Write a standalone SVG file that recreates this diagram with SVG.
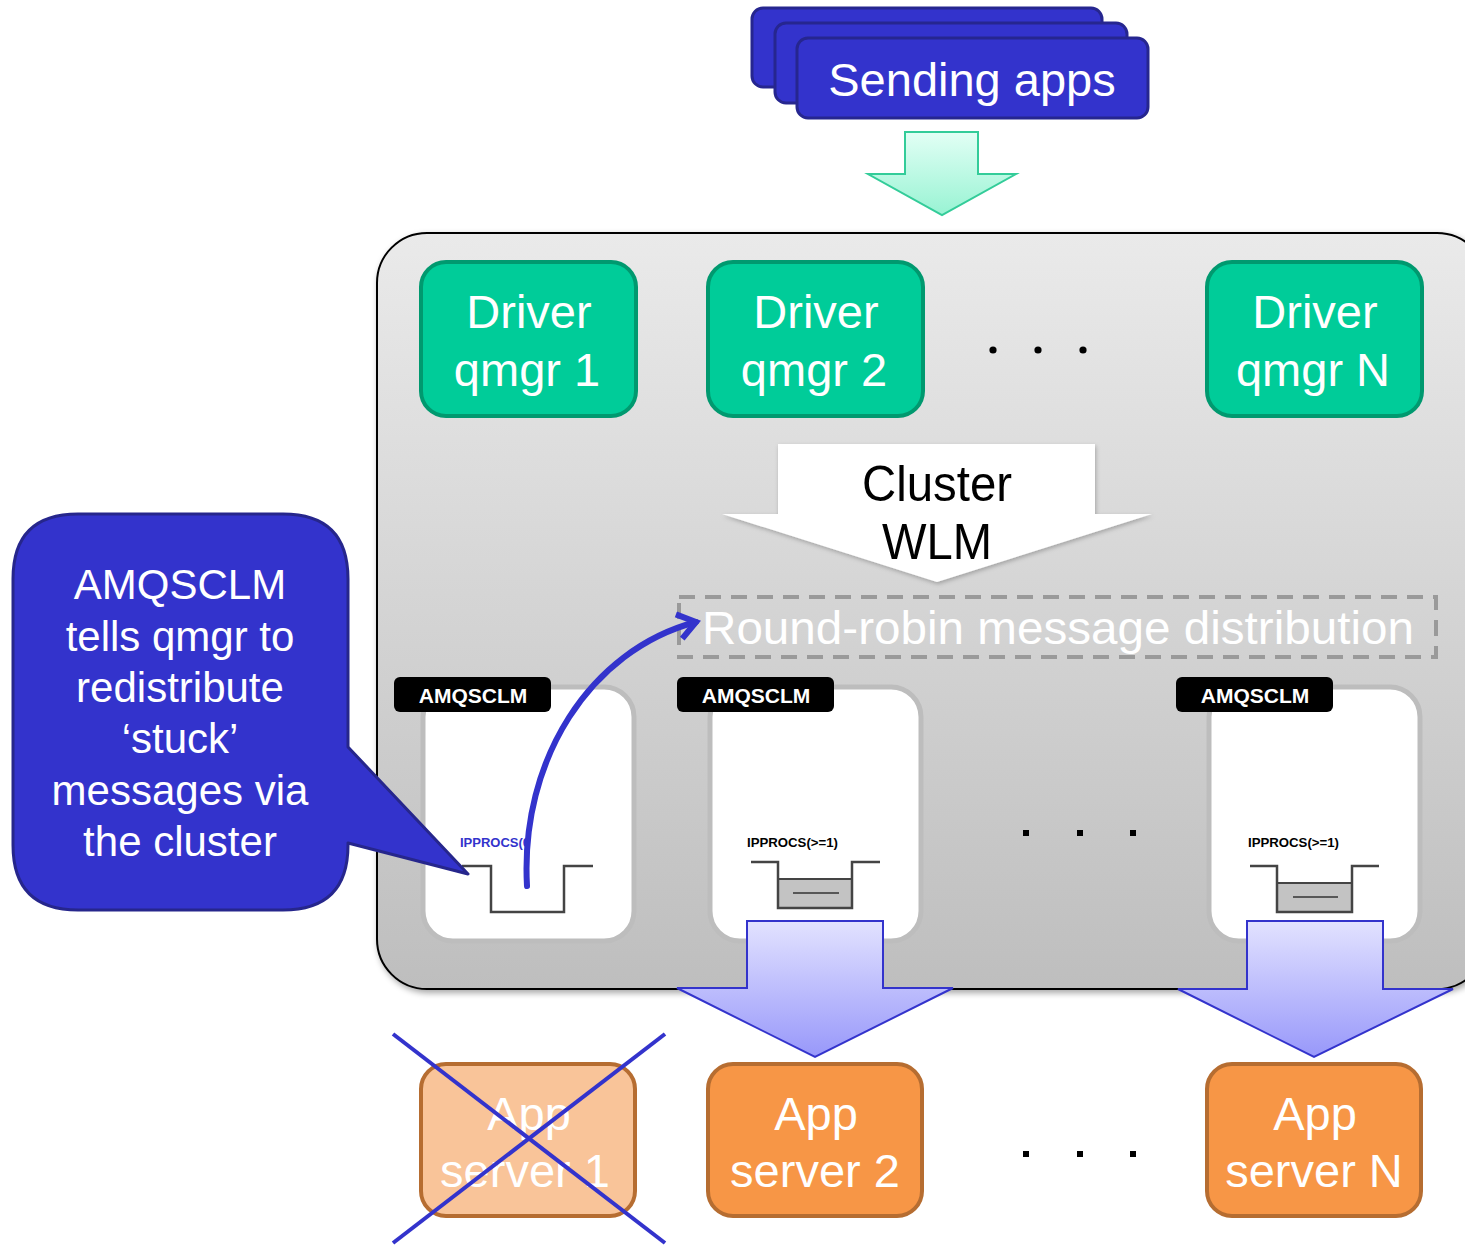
<svg xmlns="http://www.w3.org/2000/svg" width="1465" height="1246" viewBox="0 0 1465 1246">
<defs>
<linearGradient id="gCont" x1="0" y1="0" x2="0" y2="1"><stop offset="0" stop-color="#EAEAEA"/><stop offset="1" stop-color="#BEBEBE"/></linearGradient>
<linearGradient id="gGreen" x1="0" y1="0" x2="0" y2="1"><stop offset="0" stop-color="#E2FFF5"/><stop offset="1" stop-color="#98F3D3"/></linearGradient>
<linearGradient id="gBlue" x1="0" y1="0" x2="0" y2="1"><stop offset="0" stop-color="#E2E2FF"/><stop offset="1" stop-color="#9898FA"/></linearGradient>
<filter id="sh" x="-10%" y="-10%" width="130%" height="130%"><feDropShadow dx="2" dy="3" stdDeviation="3" flood-color="#000" flood-opacity="0.35"/></filter>
<filter id="shs" x="-10%" y="-10%" width="130%" height="130%"><feDropShadow dx="1" dy="2" stdDeviation="2" flood-color="#000" flood-opacity="0.25"/></filter>
<marker id="chev" viewBox="0 0 12 12" refX="9" refY="6" markerWidth="5" markerHeight="5" orient="auto" markerUnits="strokeWidth">
<polyline points="2,1 9,6 2,11" fill="none" stroke="#3333CC" stroke-width="2.4" stroke-linejoin="miter"/>
</marker>
</defs>
<style>
text{font-family:"Liberation Sans",Arial,sans-serif;}
.big{font-size:47px;fill:#fff;text-anchor:middle;}
.driver{fill:#00CC99;stroke:#00996F;stroke-width:4;}
.qbox{fill:#fff;stroke:#BDBDBD;stroke-width:5;}
.lbl{fill:#000;}
.lbltxt{font-size:21px;font-weight:bold;fill:#fff;text-anchor:middle;}
.ipp{font-size:13px;font-weight:bold;fill:#000;}
.queue{fill:none;stroke:#444;stroke-width:2.5;stroke-linejoin:miter;}
.qfill{fill:#C3C3C3;stroke:#444;stroke-width:2;}
.app{fill:#F79646;stroke:#B66D31;stroke-width:4;}
.blarr{fill:url(#gBlue);stroke:#3333CC;stroke-width:2;}
.dot{fill:#000;}
</style>

<g id="cluster-container">
<rect x="377" y="233" width="1110" height="756" rx="50" ry="50" fill="url(#gCont)" stroke="#000" stroke-width="2" filter="url(#sh)"/>
</g>

<g id="sending-apps">
<rect x="752" y="8" width="350" height="79" rx="11" fill="#3333CC" stroke="#26268F" stroke-width="3"/>
<rect x="775" y="23" width="352" height="80" rx="11" fill="#3333CC" stroke="#26268F" stroke-width="3"/>
<rect x="797" y="38" width="351" height="80" rx="11" fill="#3333CC" stroke="#26268F" stroke-width="3"/>
<text x="972" y="96" class="big">Sending apps</text>
</g>

<g id="driver-1">
<rect x="421" y="262" width="215" height="154" rx="25" class="driver"/>
<text x="529" y="328" class="big">Driver</text>
<text x="527" y="386" class="big">qmgr 1</text>
</g>
<g id="driver-2">
<rect x="708" y="262" width="215" height="154" rx="25" class="driver"/>
<text x="816" y="328" class="big">Driver</text>
<text x="814" y="386" class="big">qmgr 2</text>
</g>
<g id="driver-n">
<rect x="1207" y="262" width="215" height="154" rx="25" class="driver"/>
<text x="1315" y="328" class="big">Driver</text>
<text x="1313" y="386" class="big">qmgr N</text>
</g>
<g id="dots-drivers">
<circle cx="993" cy="350" r="3.6" class="dot"/>
<circle cx="1038" cy="350" r="3.6" class="dot"/>
<circle cx="1083" cy="350" r="3.6" class="dot"/>
</g>

<g id="round-robin">
<rect x="679" y="597" width="757" height="60" fill="none" stroke="#9A9A9A" stroke-width="4" stroke-dasharray="16 10"/>
<text x="1058" y="644" font-size="46" fill="#fff" text-anchor="middle" textLength="712" lengthAdjust="spacingAndGlyphs">Round-robin message distribution</text>
</g>

<g id="qmgr-box-1">
<rect x="423" y="687" width="211" height="254" rx="30" class="qbox"/>
<rect x="394" y="677" width="157" height="35" rx="6" class="lbl"/>
<text x="473" y="703" class="lbltxt">AMQSCLM</text>
<text x="460" y="847" class="ipp" style="fill:#3333CC">IPPROCS(0</text>
<polyline points="462,866 491,866 491,912 564,912 564,866 593,866" class="queue"/>
</g>
<g id="qmgr-box-2">
<rect x="710" y="687" width="211" height="254" rx="30" class="qbox"/>
<rect x="677" y="677" width="157" height="35" rx="6" class="lbl"/>
<text x="756" y="703" class="lbltxt">AMQSCLM</text>
<text x="747" y="847" class="ipp" textLength="91" lengthAdjust="spacingAndGlyphs">IPPROCS(&gt;=1)</text>
<rect x="778" y="879" width="74" height="29" class="qfill"/>
<line x1="793" y1="893" x2="839" y2="893" stroke="#333" stroke-width="1.5"/>
<polyline points="751,862 778,862 778,908 852,908 852,862 880,862" class="queue"/>
</g>
<g id="qmgr-box-n">
<rect x="1209" y="687" width="211" height="254" rx="30" class="qbox"/>
<rect x="1176" y="677" width="157" height="35" rx="6" class="lbl"/>
<text x="1255" y="703" class="lbltxt">AMQSCLM</text>
<text x="1248" y="847" class="ipp" textLength="91" lengthAdjust="spacingAndGlyphs">IPPROCS(&gt;=1)</text>
<rect x="1277" y="883" width="75" height="29" class="qfill"/>
<line x1="1293" y1="897" x2="1338" y2="897" stroke="#333" stroke-width="1.5"/>
<polyline points="1250,866 1277,866 1277,912 1352,912 1352,866 1379,866" class="queue"/>
</g>
<g id="dots-queues">
<rect x="1023" y="830" width="6" height="6" class="dot"/>
<rect x="1077" y="830" width="6" height="6" class="dot"/>
<rect x="1130" y="830" width="6" height="6" class="dot"/>
</g>

<g id="connectors">
<polygon points="905,132 978,132 978,174 1016,174 942,215 868,174 905,174" fill="url(#gGreen)" stroke="#33CC99" stroke-width="2"/>
<polygon points="778,444 1095,444 1095,514 1152,514 937,582 722,514 778,514" fill="#fff" filter="url(#shs)"/>
<polygon points="747,921 883,921 883,988 953,988 815,1057 677,988 747,988" class="blarr"/>
<polygon points="1247,921 1383,921 1383,989 1453,989 1314,1057 1178,989 1247,989" class="blarr"/>
<path d="M 527 886 C 520 760 590 650 696 622" fill="none" stroke="#3333CC" stroke-width="6" stroke-linecap="round" marker-end="url(#chev)"/>
</g>
<g id="wlm-label">
<text x="937" y="501" font-size="50" fill="#000" text-anchor="middle" textLength="150" lengthAdjust="spacingAndGlyphs">Cluster</text>
<text x="937" y="559" font-size="50" fill="#000" text-anchor="middle" textLength="110" lengthAdjust="spacingAndGlyphs">WLM</text>
</g>

<g id="callout">
<path d="M 78 514 L 283 514 Q 348 514 348 579 L 348 747 L 468 874 L 348 843 L 348 845 Q 348 910 283 910 L 78 910 Q 13 910 13 845 L 13 579 Q 13 514 78 514 Z" fill="#3333CC" stroke="#26268C" stroke-width="3" stroke-linejoin="round"/>
<text x="180" y="599" font-size="42" fill="#fff" text-anchor="middle">AMQSCLM</text>
<text x="180" y="651" font-size="42" fill="#fff" text-anchor="middle">tells qmgr to</text>
<text x="180" y="702" font-size="42" fill="#fff" text-anchor="middle">redistribute</text>
<text x="180" y="753" font-size="42" fill="#fff" text-anchor="middle">‘stuck’</text>
<text x="180" y="805" font-size="42" fill="#fff" text-anchor="middle">messages via</text>
<text x="180" y="856" font-size="42" fill="#fff" text-anchor="middle">the cluster</text>
</g>

<g id="app-server-1">
<rect x="421" y="1064" width="214" height="152" rx="25" fill="#F9C499" stroke="#B66D31" stroke-width="4"/>
<text x="529" y="1130" class="big">App</text>
<text x="525" y="1187" class="big">server 1</text>
<line x1="393" y1="1034" x2="665" y2="1243" stroke="#3333CC" stroke-width="4"/>
<line x1="665" y1="1034" x2="393" y2="1243" stroke="#3333CC" stroke-width="4"/>
</g>
<g id="app-server-2">
<rect x="708" y="1064" width="214" height="152" rx="25" class="app"/>
<text x="816" y="1130" class="big">App</text>
<text x="815" y="1187" class="big">server 2</text>
</g>
<g id="app-server-n">
<rect x="1207" y="1064" width="214" height="152" rx="25" class="app"/>
<text x="1315" y="1130" class="big">App</text>
<text x="1314" y="1187" class="big">server N</text>
</g>
<g id="dots-servers">
<rect x="1023" y="1151" width="6" height="6" class="dot"/>
<rect x="1077" y="1151" width="6" height="6" class="dot"/>
<rect x="1130" y="1151" width="6" height="6" class="dot"/>
</g>
</svg>
